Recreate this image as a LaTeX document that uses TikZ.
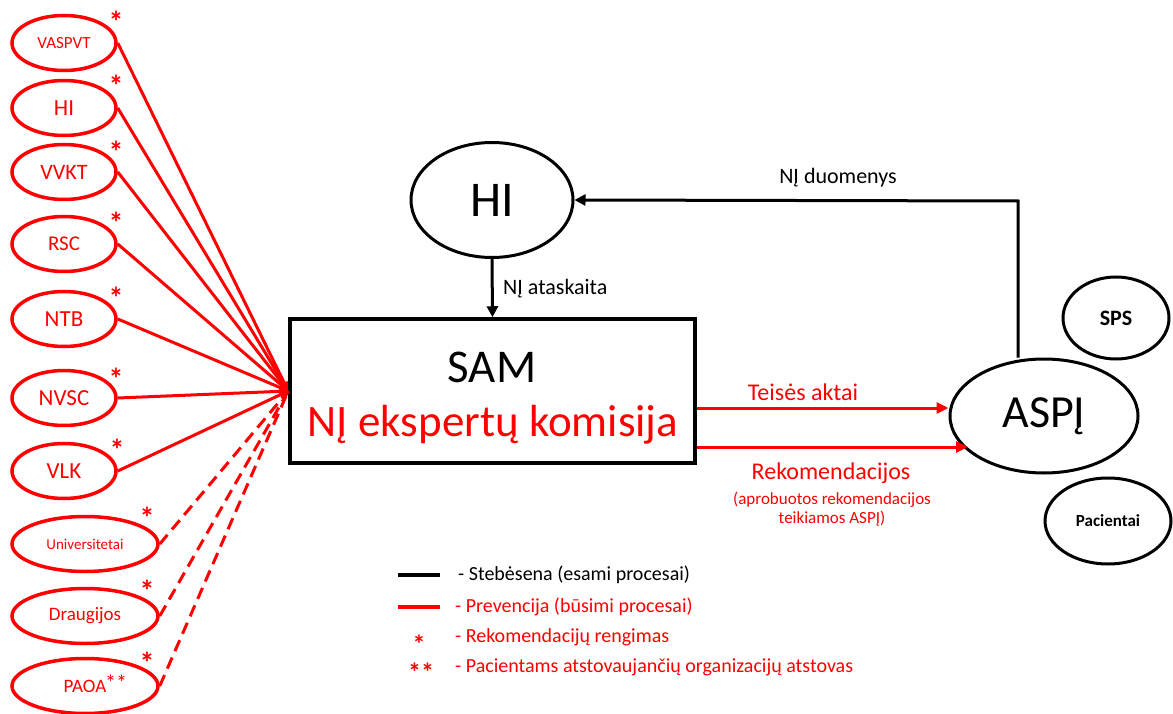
\documentclass[tikz,border=0pt]{standalone}
\usepackage{fontspec}
\setmainfont{Carlito}
\usetikzlibrary{shapes.geometric,arrows.meta}
\definecolor{rd}{RGB}{255,0,0}
\newcommand{\fs}[1]{\fontsize{#1}{#1}\selectfont}
\tikzset{
  redell/.style={ellipse, draw=rd, line width=3.5pt, text=rd, inner sep=0pt, minimum width=104pt, minimum height=55pt},
  redellw/.style={redell, minimum width=146pt},
  blkell/.style={ellipse, draw=black, line width=3pt, inner sep=0pt},
  ast/.style={text=rd, font=\bfseries\fs{30}, inner sep=0pt, anchor=base, yshift=-16pt},
  redline/.style={draw=rd, line width=3pt},
  redarr/.style={redline, -{Triangle[length=9pt,width=7pt]}},
  reddash/.style={redline, dash pattern=on 12pt off 7pt},
  blkarr/.style={draw=black, line width=3pt, -{Triangle[length=11pt,width=11pt]}},
  lbl/.style={inner sep=0pt},
}
\begin{document}
\begin{tikzpicture}[x=1pt,y=-1pt]
\useasboundingbox (0,0) rectangle (1173,714);
% left ellipses
\node[redell, font=\fs{17}] (vaspvt) at (64,43) {VASPVT};
\node[redell, font=\fs{23}] (hil) at (64,108) {HI};
\node[redell, font=\fs{22}] (vvkt) at (64,172) {VVKT};
\node[redell, font=\fs{21}] (rsc) at (64,244) {RSC};
\node[redell, font=\fs{23}] (ntb) at (64,319) {NTB};
\node[redell, font=\fs{23}] (nvsc) at (64,398) {NVSC};
\node[redell, font=\fs{23}] (vlk) at (64,471) {VLK};
\node[redellw, font=\fs{15}] (univ) at (85,544) {Universitetai};
\node[redellw, font=\fs{19}] (draug) at (85,616) {Draugijos};
\node[redellw, font=\fs{19}] (paoa) at (85,686) {PAOA};
% asterisks
\node[ast] (a1) at (116,17) {*};
\node[ast] (a2) at (116,81) {*};
\node[ast] (a3) at (116,147) {*};
\node[ast] (a4) at (116,218) {*};
\node[ast] (a5) at (116,292) {*};
\node[ast] (a6) at (116,373) {*};
\node[ast] (a7) at (117,444) {*};
\node[ast] (a8) at (147,512) {*};
\node[ast] (a9) at (147,585) {*};
\node[ast] (a10) at (147,657) {*};
\node[ast, font=\fs{22}, yshift=4pt] (a11) at (116,678) {**};
% SAM box
\node[draw=black, line width=3.5pt, minimum width=405pt, minimum height=144pt, inner sep=0pt] (sam) at (492.5,391) {};
\node[lbl, font=\fs{47}] (samt) at (492,367) {SAM};
\node[lbl, font=\fs{45}, text=rd] (komt) at (493,425) {NĮ ekspertų komisija};
% top HI
\node[blkell, minimum width=162pt, minimum height=115pt, font=\fs{50}] (hi) at (492,200) {HI};
% right ellipses
\node[blkell, minimum width=188pt, minimum height=114pt, font=\fs{46}] (aspj) at (1044,416) {ASPĮ};
\node[blkell, minimum width=106pt, minimum height=82pt, font=\bfseries\fs{22}] (sps) at (1116,318) {SPS};
\node[blkell, minimum width=126pt, minimum height=86pt, font=\bfseries\fs{17}] (pac) at (1108,521) {Pacientai};
% connectors from left
\foreach \n in {vaspvt,hil,vvkt,rsc,ntb,nvsc,vlk}{
  \draw[redarr] (\n.east) -- (sam.west);
}
\foreach \n in {univ,draug,paoa}{
  \draw[reddash] (\n.east) -- (sam.west);
}
% HI -> SAM
\draw[blkarr] (hi.south) -- (sam.north);
\node[lbl, font=\fs{22}, anchor=west] (ata) at (503,289) {NĮ ataskaita};
% ASPJ -> HI
\coordinate (corner) at (1018,201);
\draw[blkarr] (aspj.north -| corner) -- (corner) -- (hi.east);
\node[lbl, font=\fs{22}] (duom) at (838,178) {NĮ duomenys};
% SAM -> ASPJ
\coordinate (s1) at (sam.east |- 0,408);
\coordinate (s2) at (sam.east |- 0,447);
\draw[redarr, -{Triangle[length=12pt,width=11pt]}] (s1) -- (aspj.west |- s1) ;
\draw[redarr, -{Triangle[length=12pt,width=11pt]}] (s2) -- (968,447);
\node[lbl, font=\fs{24}, text=rd] (teis) at (803,392) {Teisės aktai};
\node[lbl, font=\fs{24}, text=rd] (rek) at (831,473) {Rekomendacijos};
\node[lbl, font=\fs{17}, text=rd, align=center] (rek2) at (832,509) {(aprobuotos rekomendacijos\\[2pt]teikiamos ASPĮ)};
% legend
\coordinate (l1a) at (398,575); \coordinate (l1b) at (440,575);
\coordinate (l2a) at (398,607); \coordinate (l2b) at (440,607);
\draw[line width=4.5pt] (l1a) -- (l1b);
\draw[rd, line width=4.5pt] (l2a) -- (l2b);
\node[lbl, font=\fs{20}, anchor=west] (lt1) at (458,575) {- Stebėsena (esami procesai)};
\node[lbl, font=\fs{20}, anchor=west, text=rd] (lt2) at (455,607) {- Prevencija (būsimi procesai)};
\node[ast, font=\bfseries\fs{26}, yshift=3pt] (la3) at (419,640) {*};
\node[lbl, font=\fs{20}, anchor=west, text=rd] (lt3) at (455,637) {- Rekomendacijų rengimas};
\node[ast, font=\bfseries\fs{26}, yshift=3pt] (la4) at (421,668) {**};
\node[lbl, font=\fs{20}, anchor=west, text=rd] (lt4) at (455,667) {- Pacientams atstovaujančių organizacijų atstovas};
\end{tikzpicture}
\end{document}
